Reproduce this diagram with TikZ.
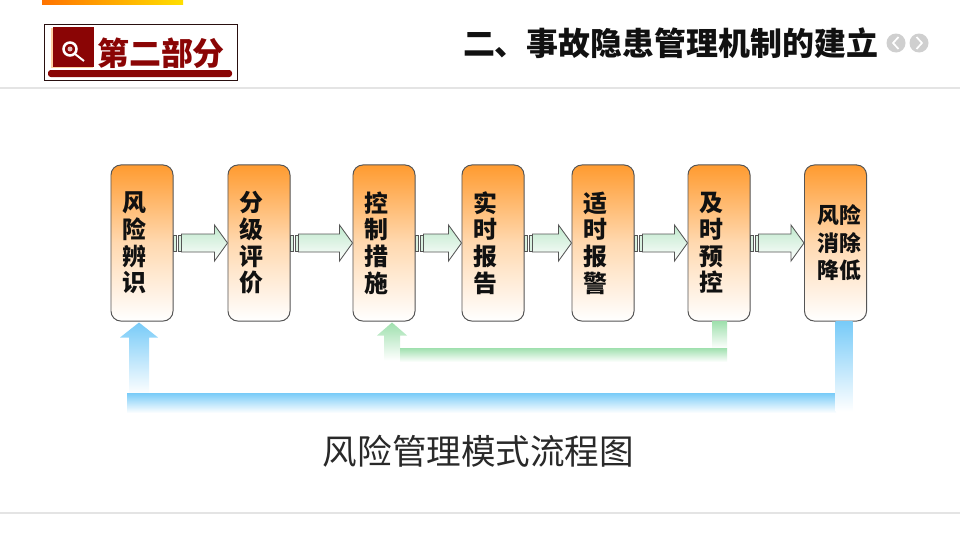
\documentclass[tikz,border=0pt]{standalone}
\usepackage{fontspec}
\usepackage{xcolor}
\usepackage{tikz}
\usetikzlibrary{arrows.meta,positioning,calc}
\newfontfamily\cjk{Noto Sans CJK SC}
\definecolor{ink}{HTML}{111111}
\definecolor{wine}{HTML}{8A0505}
\definecolor{peach}{HTML}{FF9B30}
\definecolor{mint}{HTML}{9FE0AE}
\definecolor{shaftgreen}{HTML}{BFE8CC}
\definecolor{sky}{HTML}{78CBF8}
\definecolor{slate}{HTML}{555555}
\definecolor{rulegrey}{HTML}{E4E4E4}
\definecolor{navgrey}{HTML}{CFCFCF}
\tikzset{
  stagebox/.style={draw=slate,line width=0.7pt,rounded corners=7pt,minimum width=1.55cm,minimum height=3.9cm,
    top color=peach,bottom color=white,middle color=peach!38!white,inner sep=0pt},
  stagetext/.style={text=ink,inner sep=0pt,align=center,font=\cjk\bfseries\fontsize{17}{19}\selectfont},
  stepshaft/.style={draw=slate,line width=0.6pt,top color=shaftgreen,bottom color=white},
  stripe/.style={draw=slate,line width=0.6pt,fill=shaftgreen!60},
  bluefade/.style={top color=sky,bottom color=white},
  greenfade/.style={top color=mint,bottom color=white},
}
\begin{document}
\begin{tikzpicture}[x=0.025cm,y=-0.025cm]
  \useasboundingbox (0,0) rectangle (960,540);
  \fill[white] (0,0) rectangle (960,540);
  % header
  \shade[left color=orange!90!red,right color=yellow!75!orange] (42,0) rectangle (183,4);
  \draw[rulegrey,line width=0.8pt] (0,88) -- (960,88);
  \draw[rulegrey,line width=0.8pt] (0,513) -- (960,513);
  \draw[ink!80!wine,line width=0.7pt] (44.5,24.5) rectangle (237.5,80);
  \fill[peach!45] (51,28) rectangle (93,68);
  \fill[wine] (53,27) rectangle (94,67);
  \fill[wine,rounded corners=2pt] (48,70) rectangle (232,77);
  \draw[white,line width=1.8pt] (70,49) circle (6.5);
  \fill[white!75!wine] (70,49) circle (2.5);
  \draw[white,line width=1.4pt] (75,54) -- (84,61);
  \node[font=\cjk\bfseries\fontsize{22.7}{24}\selectfont,text=wine] (part) at (161,53) {第二部分};
  \node[font=\cjk\bfseries\fontsize{22.7}{24}\selectfont,text=ink] (title) at (670.5,43) {二、事故隐患管理机制的建立};
  \foreach \cx/\dir in {896/-1,919/1}{
    \fill[navgrey] (\cx,43) circle (9.5);
    \draw[white,line width=1.2pt] (\cx-\dir*2.5,37) -- (\cx+\dir*3,43) -- (\cx-\dir*2.5,49);}
  % stages
  \foreach \nm/\cx/\txt in {identify/142/风\\险\\辨\\识,grade/259/分\\级\\评\\价,control/384/控\\制\\措\\施,
      report/493/实\\时\\报\\告,alarm/603/适\\时\\报\\警,prevent/719/及\\时\\预\\控}{
    \node[stagebox] (\nm) at (\cx,243) {};
    \node[stagetext] (\nm text) at ($(\nm)+(-8,0)$) {\txt};}
  \node[stagebox] (reduce) at (835.5,243) {};
  \node[stagetext,font=\cjk\bfseries\fontsize{15.5}{19.5}\selectfont] (reduce text) at ($(reduce)+(4,0)$) {风险\\消除\\降低};
  \foreach \a/\b in {identify/grade,grade/control,control/report,report/alarm,alarm/prevent,prevent/reduce}{
    \draw[stripe] ($(\a.east)+(0,-8)$) rectangle ($(\a.east)+(3,8)$);
    \draw[stripe] ($(\a.east)+(5,-8)$) rectangle ($(\a.east)+(8,8)$);
    \draw[stepshaft] ($(\a.east)+(8,-9)$) -- ($(\b.west)+(-13,-9)$) -- ($(\b.west)+(-13,-18)$) -- (\b.west)
      -- ($(\b.west)+(-13,18)$) -- ($(\b.west)+(-13,9)$) -- ($(\a.east)+(8,9)$) -- cycle;}
  % green return
  \coordinate (gdown) at (prevent.south);
  \coordinate (gtip) at ($(control.south)+(8,1)$);
  \shade[greenfade] (gtip) -- ($(gtip)+(15,13)$) -- ($(gtip)+(8,13)$) -- ($(gtip)+(8,38)$)
    -- ($(gtip)+(-8,38)$) -- ($(gtip)+(-8,13)$) -- ($(gtip)+(-15,13)$) -- cycle;
  \shade[greenfade] ($(gdown)+(-7,0)$) rectangle ($(gdown)+(8,27)$);
  \shade[greenfade] ($(gtip |- 0,348)+(8,0)$) rectangle ($(gdown |- 0,362)+(8,0)$);
  % blue return
  \coordinate (bdown) at (reduce.south);
  \coordinate (btip) at ($(identify.south)+(-3,1)$);
  \shade[bluefade] (btip) -- ($(btip)+(19,15)$) -- ($(btip)+(10,15)$) -- ($(btip)+(10,72)$)
    -- ($(btip)+(-10,72)$) -- ($(btip)+(-10,15)$) -- ($(btip)+(-19,15)$) -- cycle;
  \shade[bluefade] (127,393) rectangle (836,413);
  \shade[bluefade] (bdown) rectangle ($(bdown)+(17,90)$);
  \node[font=\cjk\fontsize{24.6}{26}\selectfont,text=ink!90] (caption) at (478.5,451) {风险管理模式流程图};
\end{tikzpicture}
\end{document}
